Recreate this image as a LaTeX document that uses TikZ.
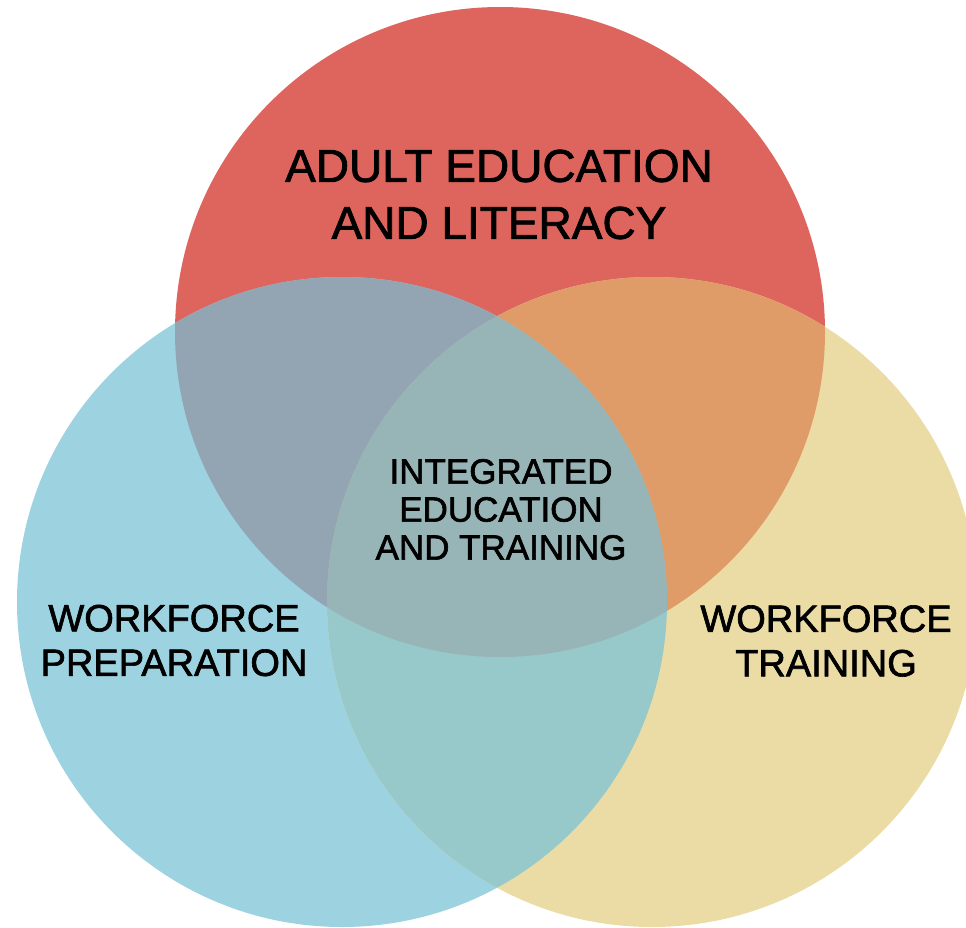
\documentclass[tikz,border=0pt]{standalone}
\usepackage{fontspec}
\setmainfont{Liberation Sans}[FakeBold=1.7,AutoFakeBold=1.7]
\definecolor{cred}{HTML}{DE655D}
\definecolor{cblue}{HTML}{9DD2E1}
\definecolor{cyellow}{HTML}{EBDCA6}
\definecolor{crb}{HTML}{93A5B2}
\definecolor{cry}{HTML}{DF9C69}
\definecolor{cby}{HTML}{97C8CA}
\definecolor{call}{HTML}{97B4B6}
\begin{document}
\begin{tikzpicture}[x=1pt,y=-1pt,
  lbl/.style={align=center, text=black, inner sep=0pt, anchor=center, font=\bfseries}]
\useasboundingbox (0,0) rectangle (966,927);
\clip (0,0) rectangle (966,927);
\def\R{325pt}
\coordinate (cr) at (500,332);
\coordinate (cb) at (342,602);
\coordinate (cy) at (652,602);
\fill[cred] (cr) circle (\R);
\fill[cblue] (cb) circle (\R);
\fill[cyellow] (cy) circle (\R);
\begin{scope}\clip (cr) circle (\R); \fill[crb] (cb) circle (\R); \end{scope}
\begin{scope}\clip (cr) circle (\R); \fill[cry] (cy) circle (\R); \end{scope}
\begin{scope}\clip (cb) circle (\R); \fill[cby] (cy) circle (\R); \end{scope}
\begin{scope}\clip (cr) circle (\R); \clip (cb) circle (\R); \fill[call] (cy) circle (\R); \end{scope}
\node[lbl, font=\bfseries\fontsize{46}{57}\selectfont] (adult) at (499,194.5) {ADULT EDUCATION\\AND LITERACY};
\node[lbl, font=\bfseries\fontsize{35}{38}\selectfont] (integ) at (501,509.5) {INTEGRATED\\EDUCATION\\AND TRAINING};
\node[lbl, font=\bfseries\fontsize{38}{44.5}\selectfont] (prep) at (174,640.5) {WORKFORCE\\PREPARATION};
\node[lbl, font=\bfseries\fontsize{38}{44.5}\selectfont] (train) at (826,641) {WORKFORCE\\TRAINING};
\end{tikzpicture}
\end{document}
